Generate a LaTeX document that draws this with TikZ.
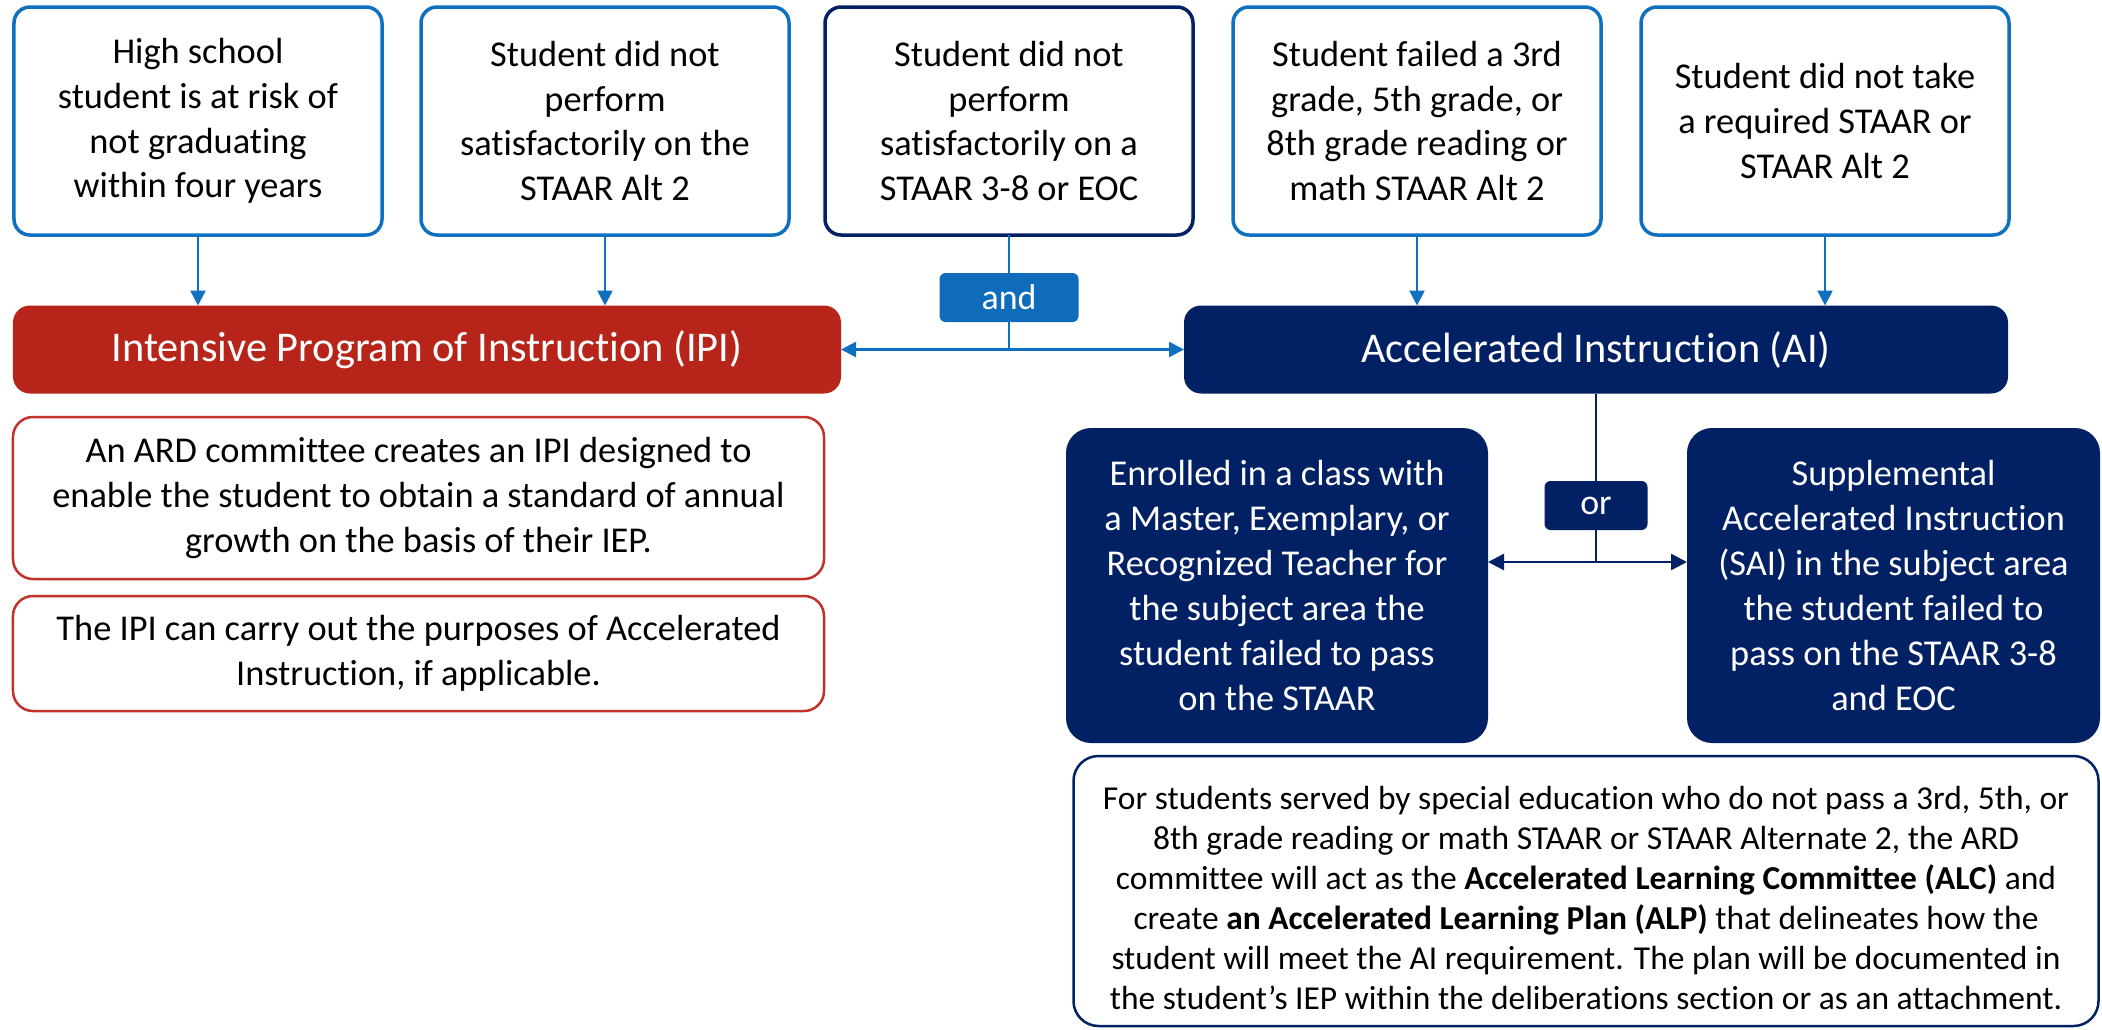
\documentclass[tikz,border=0pt]{standalone}
\usepackage{fontspec}
\setmainfont{Carlito}[Ligatures={NoCommon}]
\usetikzlibrary{arrows.meta}
\definecolor{skyline}{RGB}{16,112,192}
\definecolor{navy}{RGB}{2,33,100}
\definecolor{ipired}{RGB}{183,36,26}
\definecolor{redline}{RGB}{192,50,42}
\definecolor{andblue}{RGB}{15,108,186}
\begin{document}
\begin{tikzpicture}[x=1bp,y=-1bp,
  every node/.style={inner sep=0pt, outer sep=0pt, align=center},
  srcbox/.style={draw=skyline, line width=3.5bp, rounded corners=16bp, fill=white,
    minimum width=368bp, minimum height=228bp, font=\fontsize{36.5}{45}\selectfont},
  headbox/.style={rounded corners=17bp, text=white, minimum height=88bp,
    font=\fontsize{42.5}{48}\selectfont},
  rednote/.style={draw=redline, line width=2.5bp, rounded corners=20bp, fill=white,
    minimum width=811bp, font=\fontsize{36.5}{45}\selectfont},
  optbox/.style={fill=navy, text=white, rounded corners=25bp, minimum height=315bp,
    font=\fontsize{36.5}{45}\selectfont},
  notebox/.style={draw=navy, line width=2.5bp, rounded corners=25bp, fill=white,
    minimum width=1025bp, minimum height=270bp},
  notetext/.style={font=\fontsize{33.6}{40}\selectfont},
  tagbox/.style={text=white, rounded corners=6bp, minimum height=49bp,
    font=\fontsize{36}{40}\selectfont},
  blueline/.style={draw=skyline, line width=2.5bp},
  bluearr/.style={blueline, -{Triangle[length=15bp,width=15bp]}},
  navyarr/.style={draw=navy, line width=2.5bp}
]
\useasboundingbox (0,0) rectangle (2102,1030);

% conditions on top
\node[srcbox] (hs) at (198,121) {High school\\student is at risk of\\not graduating\\within four years};
\node[srcbox] (alt) at (605,121) {Student did not\\perform\\satisfactorily on the\\STAAR Alt 2};
\node[srcbox, draw=navy] (eoc) at (1009,121) {Student did not\\perform\\satisfactorily on a\\STAAR 3-8 or EOC};
\node[srcbox] (fail) at (1417,121) {Student failed a 3rd\\grade, 5th grade, or\\8th grade reading or\\math STAAR Alt 2};
\node[srcbox] (take) at (1825,121) {Student did not take\\a required STAAR or\\STAAR Alt 2};

% programs
\node[headbox, fill=ipired, minimum width=828bp] (ipi) at (427,349.5) {Intensive Program of Instruction (IPI)};
\node[headbox, fill=navy, minimum width=824bp] (ai) at (1596,349.5) {Accelerated Instruction (AI)};

% IPI notes
\node[rednote, minimum height=162bp] (ard) at (418.5,498) {An ARD committee creates an IPI designed to\\enable the student to obtain a standard of annual\\growth on the basis of their IEP.};
\node[rednote, minimum height=115bp] (purp) at (418.5,653.5) {The IPI can carry out the purposes of Accelerated\\Instruction, if applicable.};

% AI options
\node[optbox, minimum width=422bp] (class) at (1277,585.5) {Enrolled in a class with\\a Master, Exemplary, or\\Recognized Teacher for\\the subject area the\\student failed to pass\\on the STAAR};
\node[optbox, minimum width=413bp] (sai) at (1893.5,585.5) {Supplemental\\Accelerated Instruction\\(SAI) in the subject area\\the student failed to\\pass on the STAAR 3-8\\and EOC};

% ALC / ALP note: frame, then its text set a little below centre
\node[notebox] (alp) at (1586,891) {};
\node[notetext] (alptext) at ([yshift=-7bp]alp.center) {For students served by special education who do not pass a 3rd, 5th, or\\8th grade reading or math STAAR or STAAR Alternate 2, the ARD\\committee will act as the \textbf{Accelerated Learning Committee (ALC)} and\\create \textbf{an Accelerated Learning Plan (ALP)} that delineates how the\\student will meet the AI requirement. The plan will be documented in\\the student’s IEP within the deliberations section or as an attachment.};

% connectors
\draw[bluearr] (hs.south) -- (hs.south |- ipi.north);
\draw[bluearr] (alt.south) -- (alt.south |- ipi.north);
\draw[bluearr] (fail.south) -- (fail.south |- ai.north);
\draw[bluearr] (take.south) -- (take.south |- ai.north);
\draw[blueline] (eoc.south) -- (eoc.south |- ipi.east);
\draw[blueline, {Triangle[length=15bp,width=15bp]}-{Triangle[length=15bp,width=15bp]}] (ipi.east) -- (ai.west);

\coordinate (orjoin) at (1596,562);
\draw[navyarr] (ai.south) -- (ai.south |- orjoin);
\draw[navyarr, {Triangle[length=16bp,width=16bp]}-{Triangle[length=16bp,width=16bp]}] (class.east |- orjoin) -- (sai.west |- orjoin);

% junction labels
\node[tagbox, fill=andblue, minimum width=139bp] (and) at (1009,297.5) {and};
\node[tagbox, fill=navy, minimum width=103bp] (or) at (1596,505.5) {or};
\end{tikzpicture}
\end{document}
